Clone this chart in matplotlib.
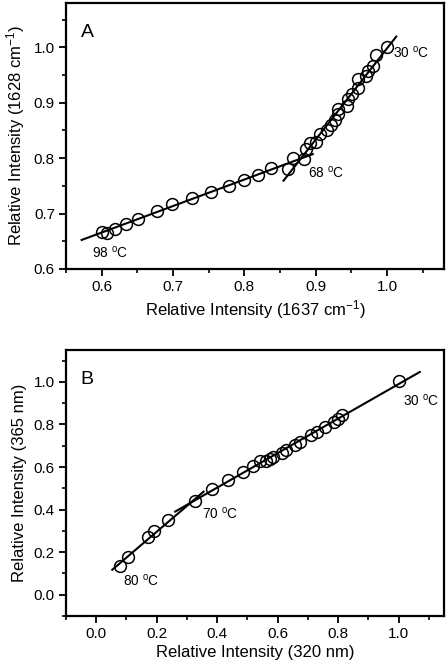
import matplotlib
matplotlib.use("Agg")
import matplotlib.pyplot as plt
import numpy as np
from matplotlib.ticker import MultipleLocator, FormatStrFormatter

plt.rcParams['font.family'] = ['Liberation Sans', 'DejaVu Sans']
plt.rcParams['mathtext.fontset'] = 'custom'
plt.rcParams['mathtext.rm'] = 'Liberation Sans'
plt.rcParams['mathtext.it'] = 'Liberation Sans'

# Panel A data
a_x = [0.600, 0.608, 0.619, 0.634, 0.651, 0.678, 0.699, 0.726, 0.753, 0.779,
       0.799, 0.819, 0.837, 0.861, 0.868, 0.884, 0.886, 0.892, 0.901, 0.906,
       0.916, 0.922, 0.927, 0.932, 0.931, 0.944, 0.946, 0.951, 0.959, 0.959,
       0.970, 0.973, 0.981, 0.984, 1.000]
a_y = [0.666, 0.665, 0.673, 0.681, 0.690, 0.705, 0.717, 0.729, 0.739, 0.750,
       0.761, 0.770, 0.783, 0.780, 0.801, 0.798, 0.816, 0.827, 0.830, 0.844,
       0.850, 0.860, 0.869, 0.880, 0.889, 0.895, 0.906, 0.915, 0.926, 0.943,
       0.949, 0.958, 0.967, 0.987, 1.000]
# fit lines: (slope, intercept, x_start, x_end)
a_fit1 = (0.478, 0.379, 0.572, 0.896)
a_fit2 = (1.646, -0.648, 0.855, 1.013)
a_labels = ["30 $^\\mathregular{o}$C", "68 $^\\mathregular{o}$C", "98 $^\\mathregular{o}$C"]
a_label_pos = [(1.009, 0.991), (0.889, 0.774), (0.586, 0.630)]

# Panel B data
b_x = [0.078, 0.105, 0.170, 0.192, 0.236, 0.327, 0.382, 0.437, 0.484, 0.519,
       0.543, 0.563, 0.574, 0.585, 0.613, 0.627, 0.656, 0.675, 0.711, 0.730,
       0.757, 0.785, 0.799, 0.813, 1.000]
b_y = [0.136, 0.175, 0.269, 0.300, 0.352, 0.441, 0.497, 0.539, 0.578, 0.605,
       0.628, 0.630, 0.637, 0.645, 0.664, 0.680, 0.703, 0.719, 0.750, 0.766,
       0.789, 0.813, 0.828, 0.844, 1.003]
b_fit1 = (1.215, 0.053, 0.053, 0.355)
b_fit2 = (0.811, 0.179, 0.261, 1.070)
b_labels = ["30 $^\\mathregular{o}$C", "70 $^\\mathregular{o}$C", "80 $^\\mathregular{o}$C"]
b_label_pos = [(1.013, 0.914), (0.349, 0.383), (0.089, 0.066)]

W, H = 448, 671
fig = plt.figure(figsize=(W / 100, H / 100), dpi=100)

def box(l, t, r, b):
    return [l / W, 1 - b / H, (r - l) / W, (b - t) / H]

axA = fig.add_axes(box(66, 3, 444, 269))
axB = fig.add_axes(box(66, 350, 444, 616))

def style(ax, xmaj, xmin, ymaj, ymin):
    for s in ax.spines.values():
        s.set_linewidth(1.6)
    ax.xaxis.set_major_locator(MultipleLocator(xmaj))
    ax.xaxis.set_minor_locator(MultipleLocator(xmin))
    ax.yaxis.set_major_locator(MultipleLocator(ymaj))
    ax.yaxis.set_minor_locator(MultipleLocator(ymin))
    ax.tick_params(which='major', direction='out', length=5, width=1.3,
                   labelsize=11, top=False, right=False, pad=3)
    ax.tick_params(which='minor', direction='out', length=3, width=1.2,
                   top=False, right=False)
    ax.xaxis.set_major_formatter(FormatStrFormatter('%.1f'))
    ax.yaxis.set_major_formatter(FormatStrFormatter('%.1f'))

def draw_fit(ax, fit):
    m, c, x0, x1 = fit
    xs = np.array([x0, x1])
    ax.plot(xs, m * xs + c, color='black', lw=1.5, zorder=2)

MS = 8.5

# Panel A
axA.plot(a_x, a_y, 'o', mfc='none', mec='black', ms=MS, mew=1.1, zorder=3)
draw_fit(axA, a_fit1)
draw_fit(axA, a_fit2)
for txt, (x, y) in zip(a_labels, a_label_pos):
    axA.text(x, y, txt, fontsize=9.8, ha='left', va='center')
axA.text(0.039, 0.888, "A", transform=axA.transAxes, fontsize=14, ha='left', va='center')
axA.set_xlim(0.55, 1.08)
axA.set_ylim(0.6, 1.08)
style(axA, 0.1, 0.05, 0.1, 0.05)
axA.set_xlabel("Relative Intensity (1637 cm$^{-1}$)", fontsize=12, labelpad=3)
axA.set_ylabel("Relative Intensity (1628 cm$^{-1}$)", fontsize=12, labelpad=5)

# Panel B
axB.plot(b_x, b_y, 'o', mfc='none', mec='black', ms=MS, mew=1.1, zorder=3)
draw_fit(axB, b_fit1)
draw_fit(axB, b_fit2)
for txt, (x, y) in zip(b_labels, b_label_pos):
    axB.text(x, y, txt, fontsize=9.8, ha='left', va='center')
axB.text(0.039, 0.89, "B", transform=axB.transAxes, fontsize=14, ha='left', va='center')
axB.set_xlim(-0.1, 1.15)
axB.set_ylim(-0.1, 1.15)
style(axB, 0.2, 0.1, 0.2, 0.1)
axB.set_xlabel("Relative Intensity (320 nm)", fontsize=12, labelpad=3)
axB.set_ylabel("Relative Intensity (365 nm)", fontsize=12, labelpad=5)

fig.savefig("out.png", dpi=100)
